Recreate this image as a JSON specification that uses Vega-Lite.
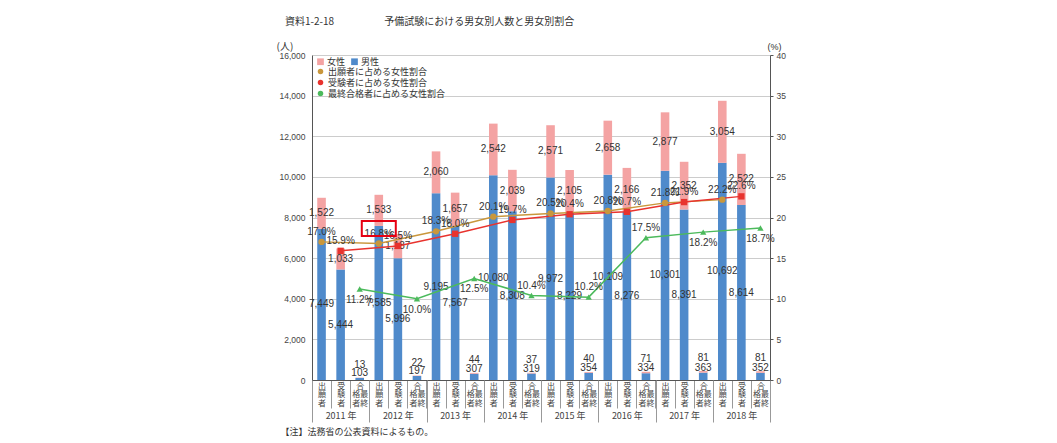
{
  "$schema": "https://vega.github.io/schema/vega-lite/v6.json",
  "width": 458,
  "height": 325,
  "autosize": {"type": "none"},
  "padding": {"left": 312, "top": 55, "right": 287, "bottom": 63},
  "background": "white",
  "config": {
    "view": {"stroke": null},
    "font": "Noto Sans CJK JP",
    "legend": {"labelFont": "Noto Sans CJK JP", "labelColor": "#333"},
    "axis": {"labelColor": "#444", "titleColor": "#333", "titleFontWeight": "normal"}
  },
  "title": {
    "text": "資料1-2-18　　　　　予備試験における男女別人数と男女別割合",
    "anchor": "start",
    "dx": 9,
    "offset": 14,
    "fontSize": 10,
    "fontWeight": "normal",
    "color": "#333"
  },
  "datasets": {
    "bars": [
      {"k": "2011出願者", "year": "2011", "kind": "出願者", "sex": "男性", "n": 7449},
      {"k": "2011出願者", "year": "2011", "kind": "出願者", "sex": "女性", "n": 1522},
      {"k": "2011受験者", "year": "2011", "kind": "受験者", "sex": "男性", "n": 5444},
      {"k": "2011受験者", "year": "2011", "kind": "受験者", "sex": "女性", "n": 1033},
      {"k": "2011最終合格者", "year": "2011", "kind": "最終合格者", "sex": "男性", "n": 103},
      {"k": "2011最終合格者", "year": "2011", "kind": "最終合格者", "sex": "女性", "n": 13},
      {"k": "2012出願者", "year": "2012", "kind": "出願者", "sex": "男性", "n": 7585},
      {"k": "2012出願者", "year": "2012", "kind": "出願者", "sex": "女性", "n": 1533},
      {"k": "2012受験者", "year": "2012", "kind": "受験者", "sex": "男性", "n": 5996},
      {"k": "2012受験者", "year": "2012", "kind": "受験者", "sex": "女性", "n": 1187},
      {"k": "2012最終合格者", "year": "2012", "kind": "最終合格者", "sex": "男性", "n": 197},
      {"k": "2012最終合格者", "year": "2012", "kind": "最終合格者", "sex": "女性", "n": 22},
      {"k": "2013出願者", "year": "2013", "kind": "出願者", "sex": "男性", "n": 9195},
      {"k": "2013出願者", "year": "2013", "kind": "出願者", "sex": "女性", "n": 2060},
      {"k": "2013受験者", "year": "2013", "kind": "受験者", "sex": "男性", "n": 7567},
      {"k": "2013受験者", "year": "2013", "kind": "受験者", "sex": "女性", "n": 1657},
      {"k": "2013最終合格者", "year": "2013", "kind": "最終合格者", "sex": "男性", "n": 307},
      {"k": "2013最終合格者", "year": "2013", "kind": "最終合格者", "sex": "女性", "n": 44},
      {"k": "2014出願者", "year": "2014", "kind": "出願者", "sex": "男性", "n": 10080},
      {"k": "2014出願者", "year": "2014", "kind": "出願者", "sex": "女性", "n": 2542},
      {"k": "2014受験者", "year": "2014", "kind": "受験者", "sex": "男性", "n": 8308},
      {"k": "2014受験者", "year": "2014", "kind": "受験者", "sex": "女性", "n": 2039},
      {"k": "2014最終合格者", "year": "2014", "kind": "最終合格者", "sex": "男性", "n": 319},
      {"k": "2014最終合格者", "year": "2014", "kind": "最終合格者", "sex": "女性", "n": 37},
      {"k": "2015出願者", "year": "2015", "kind": "出願者", "sex": "男性", "n": 9972},
      {"k": "2015出願者", "year": "2015", "kind": "出願者", "sex": "女性", "n": 2571},
      {"k": "2015受験者", "year": "2015", "kind": "受験者", "sex": "男性", "n": 8229},
      {"k": "2015受験者", "year": "2015", "kind": "受験者", "sex": "女性", "n": 2105},
      {"k": "2015最終合格者", "year": "2015", "kind": "最終合格者", "sex": "男性", "n": 354},
      {"k": "2015最終合格者", "year": "2015", "kind": "最終合格者", "sex": "女性", "n": 40},
      {"k": "2016出願者", "year": "2016", "kind": "出願者", "sex": "男性", "n": 10109},
      {"k": "2016出願者", "year": "2016", "kind": "出願者", "sex": "女性", "n": 2658},
      {"k": "2016受験者", "year": "2016", "kind": "受験者", "sex": "男性", "n": 8276},
      {"k": "2016受験者", "year": "2016", "kind": "受験者", "sex": "女性", "n": 2166},
      {"k": "2016最終合格者", "year": "2016", "kind": "最終合格者", "sex": "男性", "n": 334},
      {"k": "2016最終合格者", "year": "2016", "kind": "最終合格者", "sex": "女性", "n": 71},
      {"k": "2017出願者", "year": "2017", "kind": "出願者", "sex": "男性", "n": 10301},
      {"k": "2017出願者", "year": "2017", "kind": "出願者", "sex": "女性", "n": 2877},
      {"k": "2017受験者", "year": "2017", "kind": "受験者", "sex": "男性", "n": 8391},
      {"k": "2017受験者", "year": "2017", "kind": "受験者", "sex": "女性", "n": 2352},
      {"k": "2017最終合格者", "year": "2017", "kind": "最終合格者", "sex": "男性", "n": 363},
      {"k": "2017最終合格者", "year": "2017", "kind": "最終合格者", "sex": "女性", "n": 81},
      {"k": "2018出願者", "year": "2018", "kind": "出願者", "sex": "男性", "n": 10692},
      {"k": "2018出願者", "year": "2018", "kind": "出願者", "sex": "女性", "n": 3054},
      {"k": "2018受験者", "year": "2018", "kind": "受験者", "sex": "男性", "n": 8614},
      {"k": "2018受験者", "year": "2018", "kind": "受験者", "sex": "女性", "n": 2522},
      {"k": "2018最終合格者", "year": "2018", "kind": "最終合格者", "sex": "男性", "n": 352},
      {"k": "2018最終合格者", "year": "2018", "kind": "最終合格者", "sex": "女性", "n": 81}
    ],
    "ratios": [
      {"k": "2011出願者", "year": "2011", "series": "出願者に占める女性割合", "r": 0.170},
      {"k": "2011受験者", "year": "2011", "series": "受験者に占める女性割合", "r": 0.159},
      {"k": "2011最終合格者", "year": "2011", "series": "最終合格者に占める女性割合", "r": 0.112},
      {"k": "2012出願者", "year": "2012", "series": "出願者に占める女性割合", "r": 0.168},
      {"k": "2012受験者", "year": "2012", "series": "受験者に占める女性割合", "r": 0.165},
      {"k": "2012最終合格者", "year": "2012", "series": "最終合格者に占める女性割合", "r": 0.100},
      {"k": "2013出願者", "year": "2013", "series": "出願者に占める女性割合", "r": 0.183},
      {"k": "2013受験者", "year": "2013", "series": "受験者に占める女性割合", "r": 0.180},
      {"k": "2013最終合格者", "year": "2013", "series": "最終合格者に占める女性割合", "r": 0.125},
      {"k": "2014出願者", "year": "2014", "series": "出願者に占める女性割合", "r": 0.201},
      {"k": "2014受験者", "year": "2014", "series": "受験者に占める女性割合", "r": 0.197},
      {"k": "2014最終合格者", "year": "2014", "series": "最終合格者に占める女性割合", "r": 0.104},
      {"k": "2015出願者", "year": "2015", "series": "出願者に占める女性割合", "r": 0.205},
      {"k": "2015受験者", "year": "2015", "series": "受験者に占める女性割合", "r": 0.204},
      {"k": "2015最終合格者", "year": "2015", "series": "最終合格者に占める女性割合", "r": 0.102},
      {"k": "2016出願者", "year": "2016", "series": "出願者に占める女性割合", "r": 0.208},
      {"k": "2016受験者", "year": "2016", "series": "受験者に占める女性割合", "r": 0.207},
      {"k": "2016最終合格者", "year": "2016", "series": "最終合格者に占める女性割合", "r": 0.175},
      {"k": "2017出願者", "year": "2017", "series": "出願者に占める女性割合", "r": 0.218},
      {"k": "2017受験者", "year": "2017", "series": "受験者に占める女性割合", "r": 0.219},
      {"k": "2017最終合格者", "year": "2017", "series": "最終合格者に占める女性割合", "r": 0.182},
      {"k": "2018出願者", "year": "2018", "series": "出願者に占める女性割合", "r": 0.222},
      {"k": "2018受験者", "year": "2018", "series": "受験者に占める女性割合", "r": 0.226},
      {"k": "2018最終合格者", "year": "2018", "series": "最終合格者に占める女性割合", "r": 0.187}
    ]
  },
  "layer": [
    {
      "data": {"name": "bars"},
      "encoding": {
        "x": {
          "field": "k", "type": "nominal", "sort": null,
          "scale": {"paddingInner": 0, "paddingOuter": 0},
          "axis": {
            "title": null,
            "labelExpr": "slice(datum.label,4)=='最終合格者' ? ['合　','格最','者終'] : split(slice(datum.label,4),'')",
            "labelAngle": 0,
            "labelBaseline": "top",
            "labelLineHeight": 8.5,
            "labelFontSize": 8,
            "labelFont": "Noto Sans CJK JP",
            "labelPadding": -26,
            "labelOverlap": false,
            "tickBand": "extent",
            "tickSize": 28,
            "tickColor": "#999",
            "domainColor": "#555",
            "grid": false
          }
        }
      },
      "layer": [
        {
          "mark": {"type": "bar", "width": {"band": 0.45}},
          "encoding": {
            "y": {
              "field": "n", "type": "quantitative", "stack": "zero",
              "scale": {"domain": [0, 16000], "nice": false},
              "axis": {
                "title": "(人)", "titleAngle": 0, "titleAlign": "left", "titleBaseline": "middle",
                "titleX": -36, "titleY": -9, "titleFontSize": 10, "titleFont": "Noto Sans CJK JP",
                "values": [0, 2000, 4000, 6000, 8000, 10000, 12000, 14000, 16000],
                "format": ",d", "labelFont": "Liberation Sans", "labelFontSize": 8.5,
                "ticks": false, "labelPadding": 7, "grid": true, "gridColor": "#cccccc",
                "domainColor": "#555"
              }
            },
            "fill": {
              "field": "sex", "type": "nominal",
              "scale": {"domain": ["女性", "男性"], "range": ["#f4a3a3", "#4f8acb"]},
              "legend": {
                "title": null, "orient": "none", "legendX": 4, "legendY": 2, "direction": "horizontal", "symbolType": "square",
                "symbolSize": 45, "labelFontSize": 9, "padding": 0, "columnPadding": 4,
                "labelOffset": 2, "symbolStrokeWidth": 0
              }
            },
            "order": {"field": "sex", "sort": "descending"}
          }
        },
        {
          "transform": [{"filter": "datum.kind != '最終合格者'"}],
          "mark": {"type": "text", "fontSize": 10, "color": "#333", "font": "Liberation Sans"},
          "encoding": {
            "y": {"field": "n", "type": "quantitative", "stack": "zero", "bandPosition": 0.5},
            "text": {"field": "n", "type": "quantitative", "format": ",d"},
            "detail": {"field": "sex"},
            "order": {"field": "sex", "sort": "descending"}
          }
        },
        {
          "transform": [{"filter": "datum.kind == '最終合格者' && datum.sex == '男性'"}],
          "mark": {"type": "text", "fontSize": 10, "color": "#333", "font": "Liberation Sans", "dy": -5},
          "encoding": {
            "y": {"field": "n", "type": "quantitative", "stack": null},
            "text": {"field": "n", "type": "quantitative", "format": ",d"}
          }
        },
        {
          "transform": [
            {"joinaggregate": [{"op": "sum", "field": "n", "as": "total"}], "groupby": ["k"]},
            {"filter": "datum.kind == '最終合格者' && datum.sex == '女性'"}
          ],
          "mark": {"type": "text", "fontSize": 10, "color": "#333", "font": "Liberation Sans", "dy": -13},
          "encoding": {
            "y": {"field": "total", "type": "quantitative", "stack": null},
            "text": {"field": "n", "type": "quantitative", "format": ",d"}
          }
        }
      ]
    },
    {
      "data": {"name": "bars"},
      "mark": {"type": "rule", "opacity": 0},
      "encoding": {
        "x": {
          "field": "year", "type": "nominal",
          "scale": {"paddingInner": 0, "paddingOuter": 0},
          "axis": {
            "orient": "bottom",
            "title": "【注】法務省の公表資料によるもの。",
            "titleAnchor": null, "titleAlign": "left", "titleBaseline": "middle",
            "titleX": -32, "titleY": 51, "titleFontSize": 9, "titleFont": "Noto Sans CJK JP",
            "labelExpr": "datum.label ? datum.label + ' 年' : ''",
            "labelAngle": 0, "labelBaseline": "top", "labelFontSize": 9, "labelFont": "Noto Sans CJK JP",
            "labelPadding": -11,
            "tickBand": "extent", "tickSize": 42, "tickColor": "#999",
            "domain": false, "grid": false
          }
        }
      }
    },
    {
      "data": {"name": "ratios"},
      "encoding": {
        "x": {"field": "k", "type": "nominal", "sort": null, "scale": {"paddingInner": 0, "paddingOuter": 0}, "axis": null},
        "y": {
          "field": "r", "type": "quantitative",
          "scale": {"domain": [0, 0.4], "nice": false},
          "axis": {
            "orient": "right",
            "title": "(%)", "titleAngle": 0, "titleAlign": "left", "titleBaseline": "middle",
            "titleX": -3, "titleY": -9, "titleFontSize": 9, "titleFont": "Liberation Sans",
            "values": [0, 0.05, 0.1, 0.15, 0.2, 0.25, 0.3, 0.35, 0.4],
            "labelExpr": "format(datum.value*100, 'd')",
            "labelFont": "Liberation Sans", "labelFontSize": 8.5,
            "tickSize": 3, "tickColor": "#555", "labelPadding": 3, "grid": false, "domainColor": "#555"
          }
        }
      },
      "layer": [
        {
          "mark": {"type": "line", "strokeWidth": 1.5},
          "encoding": {
            "stroke": {
              "field": "series", "type": "nominal",
              "scale": {"domain": ["出願者に占める女性割合", "受験者に占める女性割合", "最終合格者に占める女性割合"], "range": ["#c9973c", "#e8332e", "#4cba5c"]},
              "legend": null
            }
          }
        },
        {
          "mark": {"type": "point", "filled": true, "size": 40, "opacity": 1},
          "encoding": {
            "color": {
              "field": "series", "type": "nominal",
              "scale": {"domain": ["出願者に占める女性割合", "受験者に占める女性割合", "最終合格者に占める女性割合"], "range": ["#c9973c", "#e8332e", "#4cba5c"]},
              "legend": {
                "title": null, "orient": "none", "legendX": 4, "legendY": 12, "padding": 0, "rowPadding": 1,
                "symbolSize": 30, "labelFontSize": 9, "labelOffset": 3,
                "encode": {"symbols": {"update": {"shape": {"scale": "shape", "field": "value"}}}}
              }
            },
            "shape": {
              "field": "series", "type": "nominal",
              "scale": {"domain": ["出願者に占める女性割合", "受験者に占める女性割合", "最終合格者に占める女性割合"], "range": ["circle", "square", "triangle-up"]},
              "legend": null
            }
          }
        },
        {
          "transform": [{"filter": "datum.series != '最終合格者に占める女性割合'"}],
          "mark": {"type": "text", "fontSize": 10, "color": "#333", "font": "Liberation Sans", "dy": -10},
          "encoding": {"text": {"field": "r", "type": "quantitative", "format": ".1%"}}
        },
        {
          "transform": [{"filter": {"and": [{"field": "series", "equal": "最終合格者に占める女性割合"}, {"field": "year", "oneOf": ["2014", "2015", "2016"]}]}}],
          "mark": {"type": "text", "fontSize": 10, "color": "#333", "font": "Liberation Sans", "dy": -10},
          "encoding": {"text": {"field": "r", "type": "quantitative", "format": ".1%"}}
        },
        {
          "transform": [{"filter": {"and": [{"field": "series", "equal": "最終合格者に占める女性割合"}, {"field": "year", "oneOf": ["2011", "2012", "2013", "2017", "2018"]}]}}],
          "mark": {"type": "text", "fontSize": 10, "color": "#333", "font": "Liberation Sans", "dy": 11},
          "encoding": {"text": {"field": "r", "type": "quantitative", "format": ".1%"}}
        },
        {
          "transform": [{"filter": "datum.k == '2012出願者'"}],
          "mark": {"type": "point", "shape": "M-1,-1.32H1V-0.44H-1Z", "size": 1156, "filled": false, "color": "#e60012", "strokeWidth": 2, "opacity": 1}
        }
      ]
    }
  ],
  "resolve": {"scale": {"x": "independent", "y": "independent", "color": "independent"}}
}
